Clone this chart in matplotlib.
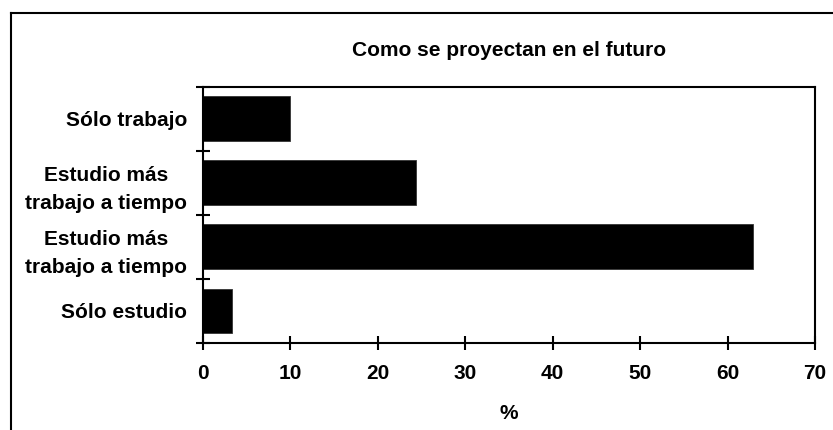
import matplotlib.pyplot as plt
from matplotlib.lines import Line2D

plt.rcParams['font.family'] = ['Liberation Sans', 'DejaVu Sans']
plt.rcParams['font.weight'] = 'bold'

# datos (de arriba hacia abajo)
categorias = ['Sólo trabajo',
              'Estudio más\ntrabajo a tiempo',
              'Estudio más\ntrabajo a tiempo',
              'Sólo estudio']
porcentajes = [10, 24.4, 62.9, 3.4]
x_ticks = [0, 10, 20, 30, 40, 50, 60, 70]

fig = plt.figure(figsize=(8.33, 4.3), dpi=100)
ax = fig.add_axes([0.2431, 0.2023, 0.9784 - 0.2431, 0.7984 - 0.2023])

pos = list(range(len(categorias)))
ax.barh(pos, porcentajes, height=0.7, color='black', edgecolor='#333333', linewidth=0.6)

ax.set_xlim(0, 70)
ax.set_ylim(len(categorias) - 0.5, -0.5)
ax.set_xticks(x_ticks)
ax.set_xticklabels([str(t) for t in x_ticks], fontsize=15, fontweight='bold')

# etiquetas en el centro, marcas entre categorias
ax.set_yticks(pos)
ax.set_yticklabels(categorias, fontsize=15, fontweight='bold', ha='right',
                   multialignment='center', linespacing=1.6)
ax.set_yticks([p - 0.5 for p in pos] + [len(pos) - 0.5], minor=True)
ax.tick_params(axis='y', which='major', length=0, pad=11)
ax.tick_params(axis='y', which='minor', direction='inout', length=10, width=1.5)
ax.tick_params(axis='x', direction='inout', length=10, width=1.5, pad=10)

for s in ax.spines.values():
    s.set_linewidth(1.5)

ax.set_xlabel('%', fontsize=15, fontweight='bold', labelpad=15)
ax.set_title('Como se proyectan en el futuro', fontsize=15, fontweight='bold', pad=22)

# borde exterior (solo se ve arriba y a la izquierda)
fig.add_artist(Line2D([11 / 833, 11 / 833], [0, 1 - 12.5 / 430], color='black', lw=1.5))
fig.add_artist(Line2D([11 / 833, 1], [1 - 12.5 / 430, 1 - 12.5 / 430], color='black', lw=1.5))

plt.savefig('out.png', dpi=100)
